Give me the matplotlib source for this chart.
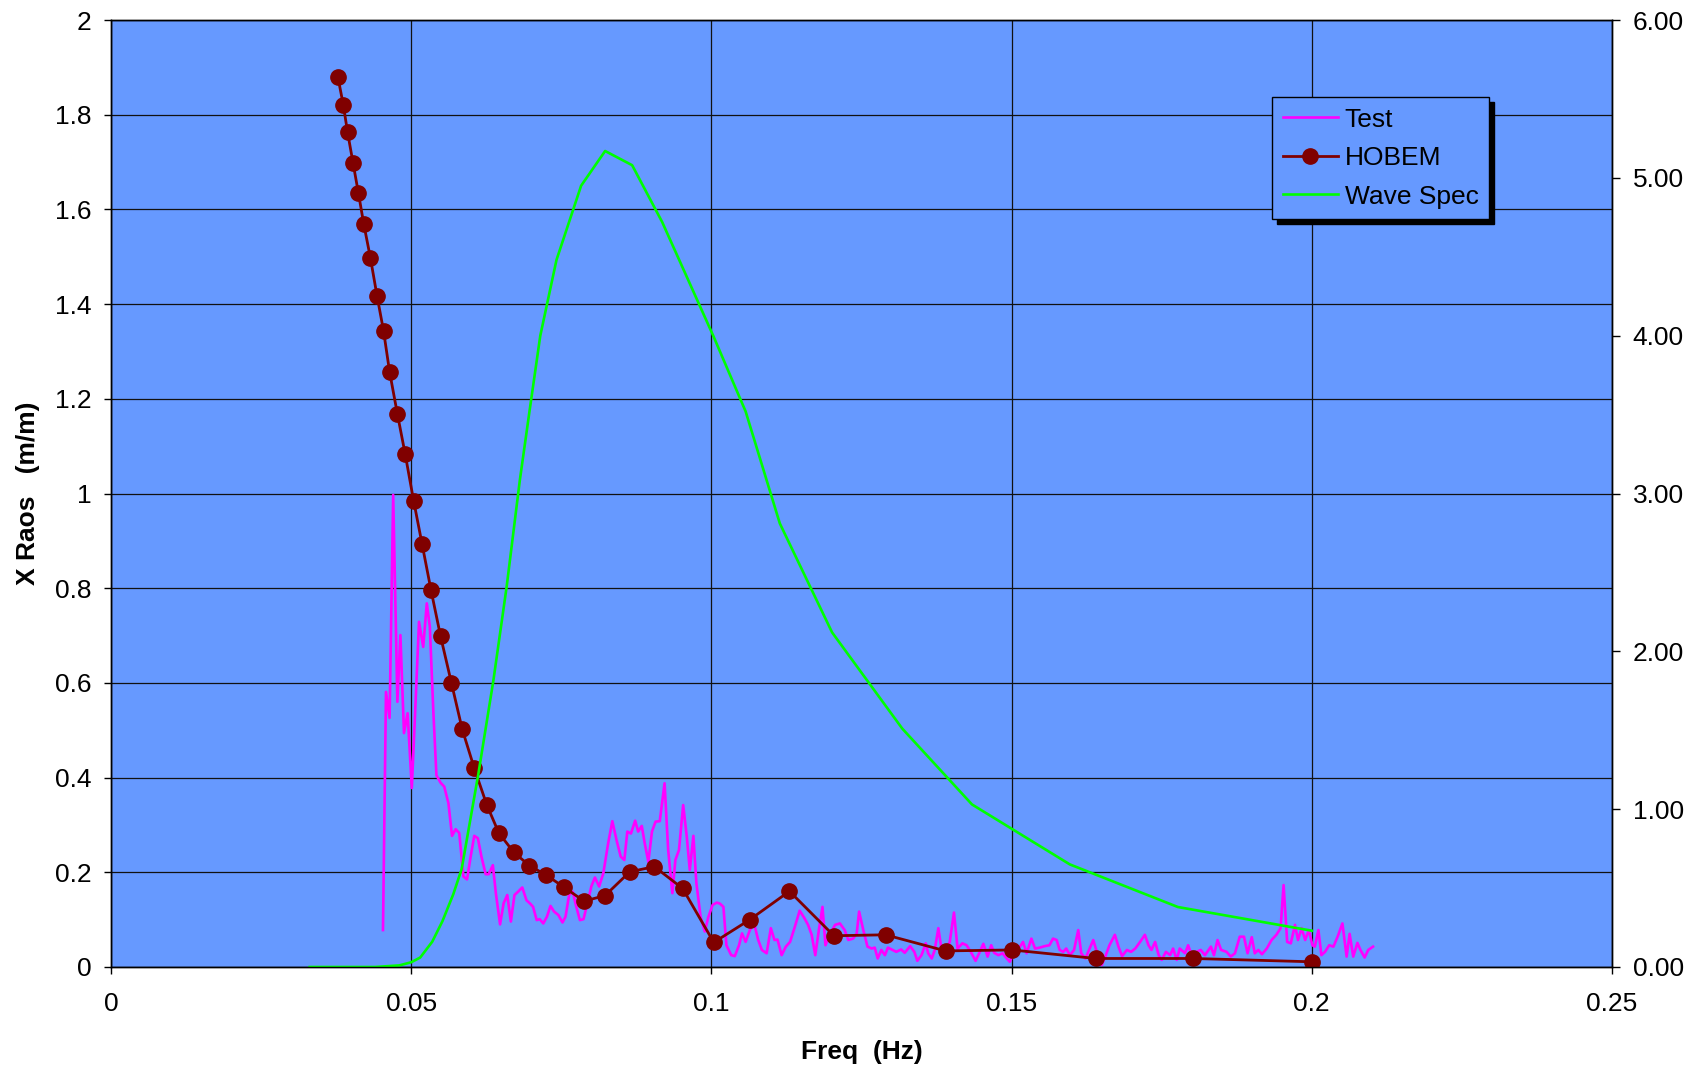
import matplotlib
matplotlib.use("Agg")
import matplotlib.pyplot as plt
from matplotlib.ticker import FormatStrFormatter, FuncFormatter

plt.rcParams['font.family'] = ['Liberation Sans', 'DejaVu Sans']
plt.rcParams['font.size'] = 19

# Test (measured RAO)
test_f = [0.0453, 0.0458, 0.0464, 0.0470, 0.0477, 0.0482, 0.0488, 0.0494, 0.0501, 0.0506,
          0.0513, 0.0520, 0.0526, 0.0531, 0.0537, 0.0542, 0.0549, 0.0555, 0.0562, 0.0568,
          0.0574, 0.0580, 0.0587, 0.0593, 0.0599, 0.0605, 0.0611, 0.0617, 0.0624, 0.0629,
          0.0636, 0.0641, 0.0648, 0.0654, 0.0660, 0.0666, 0.0672, 0.0678, 0.0685, 0.0692,
          0.0698, 0.0703, 0.0709, 0.0714, 0.0720, 0.0726, 0.0732, 0.0738, 0.0745, 0.0752,
          0.0757, 0.0763, 0.0769, 0.0775, 0.0781, 0.0787, 0.0792, 0.0800, 0.0806, 0.0813,
          0.0820, 0.0828, 0.0835, 0.0842, 0.0849, 0.0855, 0.0860, 0.0866, 0.0873, 0.0878,
          0.0884, 0.0889, 0.0895, 0.0901, 0.0907, 0.0914, 0.0922, 0.0928, 0.0935, 0.0940,
          0.0946, 0.0953, 0.0959, 0.0964, 0.0970, 0.0975, 0.0982, 0.0989, 0.0995, 0.1002,
          0.1009, 0.1014, 0.1020, 0.1025, 0.1033, 0.1039, 0.1046, 0.1051, 0.1057, 0.1064,
          0.1071, 0.1078, 0.1084, 0.1092, 0.1099, 0.1105, 0.1110, 0.1117, 0.1124, 0.1131,
          0.1139, 0.1147, 0.1155, 0.1161, 0.1167, 0.1173, 0.1179, 0.1185, 0.1190, 0.1197,
          0.1206, 0.1214, 0.1222, 0.1228, 0.1236, 0.1242, 0.1246, 0.1253, 0.1260, 0.1267,
          0.1272, 0.1277, 0.1283, 0.1289, 0.1294, 0.1302, 0.1308, 0.1316, 0.1322, 0.1331,
          0.1338, 0.1343, 0.1350, 0.1357, 0.1361, 0.1367, 0.1372, 0.1378, 0.1383, 0.1389,
          0.1397, 0.1404, 0.1410, 0.1418, 0.1425, 0.1432, 0.1440, 0.1447, 0.1453, 0.1460,
          0.1466, 0.1471, 0.1478, 0.1485, 0.1492, 0.1497, 0.1504, 0.1514, 0.1519, 0.1525,
          0.1533, 0.1539, 0.1547, 0.1555, 0.1563, 0.1569, 0.1575, 0.1580, 0.1586, 0.1591,
          0.1597, 0.1604, 0.1611, 0.1616, 0.1623, 0.1630, 0.1636, 0.1641, 0.1650, 0.1656,
          0.1663, 0.1672, 0.1678, 0.1684, 0.1692, 0.1699, 0.1706, 0.1714, 0.1722, 0.1728,
          0.1733, 0.1739, 0.1745, 0.1750, 0.1757, 0.1764, 0.1769, 0.1775, 0.1780, 0.1789,
          0.1794, 0.1800, 0.1808, 0.1815, 0.1822, 0.1832, 0.1837, 0.1843, 0.1849, 0.1858,
          0.1865, 0.1872, 0.1880, 0.1887, 0.1893, 0.1900, 0.1905, 0.1911, 0.1917, 0.1925,
          0.1933, 0.1941, 0.1948, 0.1953, 0.1959, 0.1965, 0.1972, 0.1977, 0.1983, 0.1989,
          0.1995, 0.2001, 0.2005, 0.2011, 0.2016, 0.2022, 0.2029, 0.2036, 0.2043, 0.2051,
          0.2058, 0.2063, 0.2069, 0.2076, 0.2081, 0.2088, 0.2094, 0.2102]
test_rao = [0.078, 0.581, 0.526, 0.997, 0.560, 0.701, 0.494, 0.536, 0.378, 0.522,
            0.729, 0.676, 0.768, 0.719, 0.536, 0.405, 0.389, 0.381, 0.346, 0.277,
            0.291, 0.283, 0.191, 0.185, 0.233, 0.277, 0.272, 0.233, 0.196, 0.196,
            0.215, 0.156, 0.090, 0.135, 0.152, 0.096, 0.152, 0.159, 0.168, 0.141,
            0.134, 0.127, 0.099, 0.101, 0.092, 0.106, 0.129, 0.117, 0.110, 0.094,
            0.106, 0.152, 0.159, 0.127, 0.099, 0.101, 0.127, 0.170, 0.189, 0.170,
            0.198, 0.261, 0.308, 0.268, 0.233, 0.226, 0.286, 0.282, 0.309, 0.286,
            0.298, 0.261, 0.222, 0.286, 0.307, 0.308, 0.388, 0.247, 0.156, 0.226,
            0.247, 0.342, 0.275, 0.205, 0.277, 0.177, 0.106, 0.075, 0.106, 0.131,
            0.136, 0.134, 0.127, 0.046, 0.025, 0.023, 0.046, 0.071, 0.053, 0.078,
            0.092, 0.057, 0.036, 0.029, 0.082, 0.057, 0.058, 0.025, 0.043, 0.053,
            0.085, 0.119, 0.103, 0.089, 0.068, 0.025, 0.078, 0.127, 0.046, 0.068,
            0.089, 0.092, 0.078, 0.057, 0.060, 0.071, 0.117, 0.078, 0.043, 0.039,
            0.041, 0.018, 0.036, 0.025, 0.041, 0.036, 0.032, 0.037, 0.030, 0.044,
            0.032, 0.013, 0.025, 0.050, 0.029, 0.018, 0.036, 0.082, 0.039, 0.032,
            0.053, 0.115, 0.039, 0.050, 0.046, 0.032, 0.013, 0.032, 0.049, 0.022,
            0.046, 0.030, 0.025, 0.029, 0.018, 0.011, 0.032, 0.043, 0.053, 0.029,
            0.060, 0.039, 0.041, 0.044, 0.046, 0.060, 0.057, 0.036, 0.032, 0.039,
            0.025, 0.036, 0.078, 0.029, 0.018, 0.039, 0.057, 0.036, 0.004, 0.022,
            0.046, 0.068, 0.043, 0.023, 0.036, 0.032, 0.039, 0.053, 0.068, 0.046,
            0.036, 0.053, 0.025, 0.015, 0.032, 0.025, 0.039, 0.015, 0.039, 0.029,
            0.046, 0.025, 0.032, 0.036, 0.025, 0.043, 0.025, 0.057, 0.036, 0.032,
            0.022, 0.029, 0.064, 0.064, 0.029, 0.063, 0.029, 0.036, 0.027, 0.039,
            0.057, 0.068, 0.082, 0.173, 0.053, 0.050, 0.089, 0.057, 0.082, 0.057,
            0.078, 0.046, 0.043, 0.078, 0.025, 0.032, 0.046, 0.043, 0.064, 0.092,
            0.022, 0.070, 0.022, 0.051, 0.036, 0.020, 0.036, 0.043]

# HOBEM (computed RAO)
hobem_f = [0.0378, 0.0387, 0.0394, 0.0403, 0.0412, 0.0421, 0.0432, 0.0443, 0.0454, 0.0464,
           0.0477, 0.0490, 0.0504, 0.0518, 0.0533, 0.0549, 0.0567, 0.0585, 0.0605, 0.0626,
           0.0646, 0.0671, 0.0697, 0.0725, 0.0754, 0.0788, 0.0823, 0.0864, 0.0905, 0.0952,
           0.1004, 0.1064, 0.1130, 0.1204, 0.1290, 0.1390, 0.1501, 0.1640, 0.1802, 0.2000]
hobem_rao = [1.879, 1.820, 1.763, 1.699, 1.635, 1.569, 1.498, 1.418, 1.343, 1.257,
             1.168, 1.083, 0.985, 0.894, 0.796, 0.698, 0.600, 0.502, 0.420, 0.342,
             0.283, 0.242, 0.214, 0.194, 0.169, 0.139, 0.151, 0.201, 0.212, 0.166,
             0.052, 0.100, 0.160, 0.066, 0.068, 0.034, 0.036, 0.018, 0.018, 0.011]

# Wave spectrum (right axis)
wave_f = [0.0331, 0.0440, 0.0480, 0.0500, 0.0515, 0.0535, 0.0552, 0.0570, 0.0584, 0.0612,
          0.0637, 0.0659, 0.0681, 0.0697, 0.0715, 0.0742, 0.0783, 0.0823, 0.0868, 0.0918,
          0.1003, 0.1057, 0.1114, 0.1201, 0.1318, 0.1434, 0.1597, 0.1777, 0.2000]
wave_s = [0.000, 0.000, 0.010, 0.030, 0.060, 0.160, 0.290, 0.460, 0.620, 1.227,
          1.818, 2.410, 3.086, 3.520, 4.000, 4.480, 4.950, 5.170, 5.080, 4.720,
          4.000, 3.520, 2.810, 2.120, 1.510, 1.030, 0.650, 0.380, 0.230]

bg = '#6699FF'

fig = plt.figure(figsize=(16.94, 10.67), dpi=100)
ax = fig.add_axes([111 / 1694, 1 - 967 / 1067, 1501 / 1694, 947 / 1067])
ax.set_facecolor(bg)
ax2 = ax.twinx()

l1, = ax.plot(test_f, test_rao, color='#FF00FF', lw=1.9, zorder=3, label='Test')
l2, = ax.plot(hobem_f, hobem_rao, color='#800000', lw=2.0, marker='o', ms=11,
              zorder=4, label='HOBEM')
l3, = ax2.plot(wave_f, wave_s, color='#00FF00', lw=1.9, label='Wave Spec')

ax.set_xlim(0, 0.25)
ax.set_ylim(0, 2)
ax2.set_ylim(0, 6)
ax.set_xticks([0, 0.05, 0.1, 0.15, 0.2, 0.25])
ax.set_yticks([0, 0.2, 0.4, 0.6, 0.8, 1, 1.2, 1.4, 1.6, 1.8, 2])
ax2.set_yticks([0, 1, 2, 3, 4, 5, 6])
ax.xaxis.set_major_formatter(FuncFormatter(lambda v, p: f'{v:g}'))
ax.yaxis.set_major_formatter(FuncFormatter(lambda v, p: f'{v:g}'))
ax2.yaxis.set_major_formatter(FormatStrFormatter('%.2f'))

ax.grid(True, color='#111111', lw=0.9)
ax.set_axisbelow(True)
ax.tick_params(axis='x', direction='out', length=5, width=1, pad=13)
ax.tick_params(axis='y', direction='out', length=5, width=1, pad=9)
ax2.tick_params(axis='y', direction='out', length=6, width=1, pad=9)
for sp in list(ax.spines.values()) + list(ax2.spines.values()):
    sp.set_color('black')
    sp.set_linewidth(1)

ax.set_xlabel('Freq  (Hz)', fontweight='bold')
ax.xaxis.set_label_coords(0.5, -0.077)
ax.set_ylabel('X Raos   (m/m)', fontweight='bold')
ax.yaxis.set_label_coords(-0.047, 0.5)

leg = ax.legend(handles=[l1, l2, l3], loc='upper left',
                bbox_to_anchor=(0.7735, 0.9187), borderaxespad=0,
                fancybox=False, facecolor=bg, edgecolor='black', framealpha=1,
                handlelength=2.1, handletextpad=0.25, labelspacing=0.55,
                borderpad=0.4,
                shadow={'ox': 3.5, 'oy': -3.5, 'facecolor': 'black',
                        'edgecolor': 'black', 'alpha': 1})
leg.get_frame().set_linewidth(1)
leg.set_zorder(10)

fig.savefig('out.png', dpi=100)
